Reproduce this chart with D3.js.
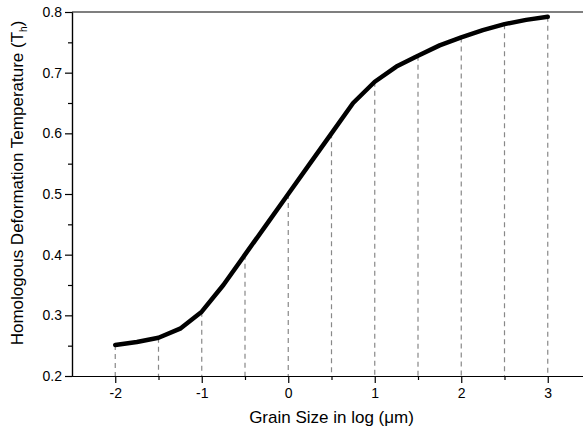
<!DOCTYPE html>
<html>
<head>
<meta charset="utf-8">
<script src="https://cdn.jsdelivr.net/npm/d3@7"></script>
<style>
  body { margin: 0; background: #fff; }
  svg { display: block; font-family: "Liberation Sans", Arial, sans-serif; }
  .axis path, .axis line { stroke: #000; stroke-width: 1.2; }
  .axis text { font-size: 14px; fill: #000; font-family: "Liberation Sans", Arial, sans-serif; }
</style>
</head>
<body>
<div id="chart"></div>
<script>
// data
const grainLog = [-2, -1.75, -1.5, -1.25, -1, -0.75, -0.5, -0.25, 0, 0.25, 0.5, 0.75, 1, 1.25, 1.5, 1.75, 2, 2.25, 2.5, 2.75, 3];
const tempH = [0.251, 0.256, 0.263, 0.278, 0.306, 0.35, 0.4, 0.45, 0.5, 0.55, 0.6, 0.65, 0.685, 0.71, 0.728, 0.745, 0.758, 0.77, 0.78, 0.787, 0.792];
const dropX = [-2, -1.5, -1, -0.5, 0, 0.5, 1, 1.5, 2, 2.5, 3];
const xTicks = [-2, -1, 0, 1, 2, 3];
const yTicks = [0.2, 0.3, 0.4, 0.5, 0.6, 0.7, 0.8];

const data = grainLog.map((g, i) => ({ g: g, t: tempH[i] }));

const width = 583;
const height = 434;
const margin = { top: 12, right: -8, bottom: 58, left: 72 };
const innerWidth = width - margin.left - margin.right;
const innerHeight = height - margin.top - margin.bottom;

const svg = d3.select("#chart")
  .append("svg")
  .attr("width", width)
  .attr("height", height);

const bounds = svg.append("g")
  .attr("transform", `translate(${margin.left},${margin.top})`);

// scales
const x = d3.scaleLinear().domain([-2.5, 3.5]).range([0, innerWidth]);
const y = d3.scaleLinear().domain([0.2, 0.8]).range([innerHeight, 0]);

// dashed drop lines
const lookup = new Map(data.map(d => [d.g, d.t]));
bounds.selectAll(".drop")
  .data(dropX)
  .join("line")
  .attr("class", "drop")
  .attr("x1", d => x(d))
  .attr("x2", d => x(d))
  .attr("y1", d => y(lookup.get(d)))
  .attr("y2", innerHeight)
  .attr("stroke", "#888")
  .attr("stroke-width", 1.2)
  .attr("stroke-dasharray", "5,4");

// minor ticks (no labels)
const xMinor = [-1.5, -0.5, 0.5, 1.5, 2.5];
const yMinor = [0.25, 0.35, 0.45, 0.55, 0.65, 0.75];

const xMinorAxis = bounds.append("g")
  .attr("class", "axis")
  .attr("transform", `translate(0,${innerHeight})`)
  .call(d3.axisBottom(x).tickValues(xMinor).tickSize(4).tickSizeOuter(0));
xMinorAxis.selectAll("text").remove();

const yMinorAxis = bounds.append("g")
  .attr("class", "axis")
  .call(d3.axisLeft(y).tickValues(yMinor).tickSize(4).tickSizeOuter(0));
yMinorAxis.selectAll("text").remove();

// major axes
bounds.append("g")
  .attr("class", "axis")
  .attr("transform", `translate(0,${innerHeight})`)
  .call(d3.axisBottom(x).tickValues(xTicks).tickSize(7).tickPadding(5).tickSizeOuter(0)
    .tickFormat(d => d3.format("d")(d).replace("−", "-")));

bounds.append("g")
  .attr("class", "axis")
  .call(d3.axisLeft(y).tickValues(yTicks).tickSize(7).tickPadding(3).tickSizeOuter(0)
    .tickFormat(d3.format(".1f")));

// top border
bounds.append("line")
  .attr("x1", 0).attr("x2", innerWidth)
  .attr("y1", 0).attr("y2", 0)
  .attr("stroke", "#000").attr("stroke-width", 1.2);

// curve
const line = d3.line()
  .x(d => x(d.g))
  .y(d => y(d.t));

bounds.append("path")
  .datum(data)
  .attr("fill", "none")
  .attr("stroke", "#000")
  .attr("stroke-width", 4.5)
  .attr("stroke-linejoin", "round")
  .attr("stroke-linecap", "round")
  .attr("d", line);

// axis titles
svg.append("text")
  .attr("x", margin.left + innerWidth / 2)
  .attr("y", 423)
  .attr("text-anchor", "middle")
  .style("font-size", "17px")
  .text("Grain Size in log (\u03bcm)");

const yTitle = svg.append("text")
  .attr("transform", `translate(23,183) rotate(-90)`)
  .attr("text-anchor", "middle")
  .style("font-size", "17px");
yTitle.append("tspan").text("Homologous Deformation Temperature (T");
yTitle.append("tspan").attr("dy", 4).style("font-size", "10px").text("h");
yTitle.append("tspan").attr("dy", -4).text(")");
</script>
</body>
</html>
